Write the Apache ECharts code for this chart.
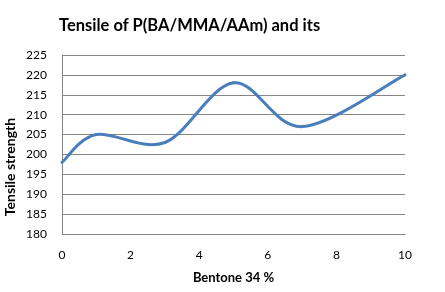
<!DOCTYPE html>
<html><head><meta charset="utf-8">
<script src="https://cdn.jsdelivr.net/npm/echarts@6/dist/echarts.min.js"></script>
<style>html,body{margin:0;padding:0;background:#fff}#c{width:445px;height:292px}</style>
</head><body><div id="c"></div>
<script>
var titleText = 'Tensile of P(BA/MMA/AAm) and its';
var xName = 'Bentone 34 %';
var yName = 'Tensile strength';
var xValues = [0, 1, 3, 5, 7, 10];
var yValues = [198, 205, 203, 218, 207, 220];
var xTicks = {min: 0, max: 10, interval: 2};
var yTicks = {min: 180, max: 225, interval: 5};

var font = 'Lato, "Open Sans", sans-serif';
var lineColor = '#4a7ebb';
var n = xValues.length;

// Smoothed line drawn segment by segment (Catmull-Rom style, as a spreadsheet "smoothed line")
function renderSeg(params, api) {
  var i = params.dataIndex;
  if (i >= n - 1) return null;
  var a = Math.max(i - 1, 0), d = Math.min(i + 2, n - 1);
  var P0 = api.coord([xValues[a], yValues[a]]);
  var P1 = api.coord([xValues[i], yValues[i]]);
  var P2 = api.coord([xValues[i + 1], yValues[i + 1]]);
  var P3 = api.coord([xValues[d], yValues[d]]);
  return {
    type: 'bezierCurve',
    shape: {
      x1: P1[0], y1: P1[1], x2: P2[0], y2: P2[1],
      cpx1: P1[0] + (P2[0] - P0[0]) / 6, cpy1: P1[1] + (P2[1] - P0[1]) / 6,
      cpx2: P2[0] - (P3[0] - P1[0]) / 6, cpy2: P2[1] - (P3[1] - P1[1]) / 6
    },
    style: {stroke: lineColor, lineWidth: 3, fill: null, lineCap: 'round'}
  };
}

var chart = echarts.init(document.getElementById('c'));
chart.setOption({
  animation: false,
  title: {text: titleText, left: 54, top: 12,
    textStyle: {fontFamily: font, fontWeight: 'bold', fontSize: 16.5, color: '#000'}},
  grid: {left: 62, right: 40, top: 55, bottom: 58, containLabel: false},
  xAxis: {type: 'value', min: xTicks.min, max: xTicks.max, interval: xTicks.interval,
    name: xName, nameLocation: 'middle', nameGap: 37,
    nameTextStyle: {fontFamily: font, fontWeight: 'bold', fontSize: 13, color: '#000'},
    axisLine: {show: true, lineStyle: {color: '#868686'}}, axisTick: {show: false},
    splitLine: {show: false},
    axisLabel: {fontFamily: font, fontSize: 12, color: '#000', margin: 15}},
  yAxis: {type: 'value', min: yTicks.min, max: yTicks.max, interval: yTicks.interval,
    axisLine: {show: true, lineStyle: {color: '#868686'}}, axisTick: {show: false},
    splitLine: {show: true, lineStyle: {color: '#868686'}},
    axisLabel: {fontFamily: font, fontSize: 12, color: '#000', margin: 15}},
  graphic: [{type: 'text', x: 10, y: 167, rotation: Math.PI/2,
    style: {text: yName, fontFamily: font, fontWeight: 'bold', fontSize: 14, fill: '#000',
      textAlign: 'center', textVerticalAlign: 'middle'}}],
  series: [{type: 'custom', renderItem: renderSeg, clip: false,
    encode: {x: 0, y: 1},
    data: xValues.map(function(x, i){ return [x, yValues[i]]; })}]
});
</script></body></html>
